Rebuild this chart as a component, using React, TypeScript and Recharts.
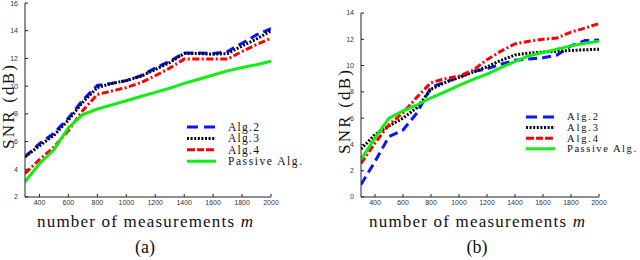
import React from "react";
import { LineChart, Line, XAxis, YAxis, Label } from "recharts";

// number of measurements m
const measurements = [
  300, 400, 500, 600, 700, 800, 900, 1000, 1100, 1200, 1300, 1400, 1500, 1600,
  1700, 1800, 1900, 2000,
];
const xTicks = [400, 600, 800, 1000, 1200, 1400, 1600, 1800, 2000];
const yTicksA = [2, 4, 6, 8, 10, 12, 14, 16];
const yTicksB = [0, 2, 4, 6, 8, 10, 12, 14];

// panel (a)
const alg2A = [4.9, 5.85, 6.6, 7.7, 9.0, 10.05, 10.2, 10.4, 10.75, 11.3, 11.8, 12.4, 12.4, 12.35, 12.5, 13.1, 13.7, 14.15];
const alg3A = [4.9, 5.7, 6.45, 7.55, 8.85, 9.9, 10.2, 10.4, 10.7, 11.2, 11.7, 12.35, 12.35, 12.3, 12.35, 12.9, 13.4, 14.0];
const alg4A = [3.7, 4.7, 5.6, 6.8, 8.25, 9.4, 9.65, 9.9, 10.25, 10.75, 11.3, 11.95, 11.95, 11.95, 11.95, 12.5, 13.0, 13.45];
const passiveA = [3.1, 4.4, 5.4, 7.0, 7.95, 8.35, 8.65, 8.95, 9.25, 9.55, 9.85, 10.2, 10.5, 10.8, 11.1, 11.35, 11.55, 11.8];

// panel (b)
const alg2B = [0.95, 2.7, 4.6, 5.1, 6.4, 8.35, 8.75, 9.1, 9.55, 9.75, 10.1, 10.4, 10.5, 10.6, 10.8, 11.5, 11.9, 11.95];
const alg3B = [3.65, 4.75, 5.4, 6.0, 6.8, 8.2, 8.7, 9.1, 9.5, 9.9, 10.4, 10.8, 10.95, 11.03, 11.08, 11.15, 11.2, 11.25];
const alg4B = [2.55, 4.1, 5.5, 6.4, 7.6, 8.7, 9.0, 9.2, 9.65, 10.45, 11.1, 11.65, 11.85, 12.0, 12.1, 12.55, 12.85, 13.2];
const passiveB = [2.85, 4.5, 6.0, 6.55, 7.0, 7.55, 8.0, 8.5, 8.95, 9.35, 9.85, 10.3, 10.75, 11.0, 11.25, 11.5, 11.7, 11.85];

const series = [
  { key: "alg2", name: "Alg.2", color: "#0a14ff", dash: "9 5", legendDash: "11 6" },
  { key: "alg3", name: "Alg.3", color: "#000000", dash: "2 1.6", legendDash: "2 1.6" },
  { key: "alg4", name: "Alg.4", color: "#ff0000", dash: "7 2.5 2 2.5", legendDash: "8 2 7 2" },
  { key: "passive", name: "Passive Alg.", color: "#11ee11", dash: undefined, legendDash: undefined },
];

function buildRows(a2: number[], a3: number[], a4: number[], p: number[]) {
  return measurements.map((m, i) => ({
    m,
    alg2: a2[i],
    alg3: a3[i],
    alg4: a4[i],
    passive: p[i],
  }));
}

const dataA = buildRows(alg2A, alg3A, alg4A, passiveA);
const dataB = buildRows(alg2B, alg3B, alg4B, passiveB);

const serifStyle = { fontFamily: "Liberation Serif, DejaVu Serif, Times New Roman, serif" };
const tickStyle = { fontSize: 7, fill: "#333", fontFamily: "Liberation Sans, Arial, sans-serif" };

type LegendProps = { left: number; top: number; rowGap: number; wideText: number; fontSize: number };

function LegendBox({ left, top, rowGap, wideText, fontSize }: LegendProps) {
  return (
    <svg
      width={130}
      height={rowGap * 4 + 6}
      style={{ position: "absolute", left, top, overflow: "visible" }}
    >
      {series.map((s, i) => {
        const y = 4 + i * rowGap;
        return (
          <g key={s.key}>
            <line
              x1={0}
              x2={29}
              y1={y}
              y2={y}
              stroke={s.color}
              strokeWidth={3}
              strokeDasharray={s.legendDash}
            />
            <text
              x={41}
              y={y + fontSize * 0.33}
              style={serifStyle}
              fontSize={fontSize}
              fill="#111"
              textLength={s.name.length > 6 ? wideText : 31}
            >
              {s.name}
            </text>
          </g>
        );
      })}
    </svg>
  );
}

type PanelProps = {
  data: typeof dataA;
  left: number;
  margin: { top: number; right: number; bottom: number; left: number };
  yDomain: [number, number];
  yTicks: number[];
  caption: string;
  legend: LegendProps;
};

function Panel({ data, left, margin, yDomain, yTicks, caption, legend }: PanelProps) {
  return (
    <div style={{ position: "absolute", left, top: 0, width: 320, height: 260 }}>
      <LineChart width={320} height={260} data={data} margin={margin}>
        <XAxis
          dataKey="m"
          type="number"
          domain={[300, 2000]}
          ticks={xTicks}
          height={20}
          tickSize={-3}
          tickMargin={6}
          tick={tickStyle}
          stroke="#222"
          allowDataOverflow
        >
          <Label
            content={(props: any) => {
              const vb = props.viewBox;
              const cx = vb.x + vb.width / 2 - 3;
              return (
                <g>
                  <text
                    x={cx}
                    y={vb.y + 30}
                    textAnchor="middle"
                    style={serifStyle}
                    fontSize={17}
                    fill="#111"
                    textLength={216}
                  >
                    number of measurements <tspan fontStyle="italic">m</tspan>
                  </text>
                  <text
                    x={cx}
                    y={vb.y + 56}
                    textAnchor="middle"
                    style={serifStyle}
                    fontSize={18}
                    fill="#111"
                  >
                    {caption}
                  </text>
                </g>
              );
            }}
          />
        </XAxis>
        <YAxis
          type="number"
          domain={yDomain}
          ticks={yTicks}
          width={25}
          tickSize={-3}
          tickMargin={10}
          tick={tickStyle}
          stroke="#222"
        >
          <Label
            content={(props: any) => {
              const vb = props.viewBox;
              const cx = vb.x + vb.width - 17;
              const cy = vb.y + vb.height / 2 + 7;
              return (
                <text
                  x={cx}
                  y={cy}
                  transform={`rotate(-90 ${cx} ${cy})`}
                  textAnchor="middle"
                  dominantBaseline="central"
                  style={serifStyle}
                  fontSize={17}
                  fill="#111"
                  textLength={84}
                >
                  SNR (dB)
                </text>
              );
            }}
          />
        </YAxis>
        {series.map((s) => (
          <Line
            key={s.key}
            dataKey={s.key}
            name={s.name}
            type="linear"
            stroke={s.color}
            strokeWidth={3}
            strokeDasharray={s.dash}
            dot={false}
            isAnimationActive={false}
          />
        ))}
      </LineChart>
      <LegendBox {...legend} />
    </div>
  );
}

export default function App() {
  return (
    <div
      style={{
        position: "absolute",
        left: 0,
        top: 0,
        width: 640,
        height: 260,
        background: "#fff",
      }}
    >
      <Panel
        data={dataA}
        left={0}
        margin={{ top: 3, right: 49, bottom: 43, left: 0 }}
        yDomain={[2, 16]}
        yTicks={yTicksA}
        caption="(a)"
        legend={{ left: 187, top: 123, rowGap: 11.4, wideText: 74, fontSize: 11.5 }}
      />
      <Panel
        data={dataB}
        left={320}
        margin={{ top: 13, right: 41, bottom: 43, left: 16 }}
        yDomain={[0, 14]}
        yTicks={yTicksB}
        caption="(b)"
        legend={{ left: 206, top: 113, rowGap: 10.6, wideText: 69, fontSize: 10.5 }}
      />
    </div>
  );
}
